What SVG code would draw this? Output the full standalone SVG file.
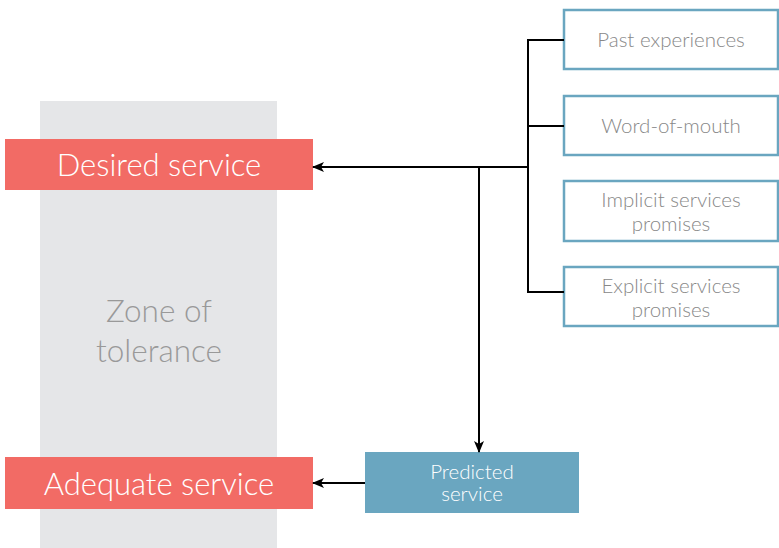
<svg xmlns="http://www.w3.org/2000/svg" width="779" height="548" viewBox="0 0 779 548">
  <defs>
    <marker id="arrow" markerWidth="12" markerHeight="10" refX="11" refY="5" orient="auto" markerUnits="userSpaceOnUse">
      <path d="M0,0 L12,5 L0,10 L3,5 Z" fill="#000"/>
    </marker>
    <style>
      .lbl { font-family: Lato, "Open Sans", "Liberation Sans", sans-serif; font-weight: 300; text-anchor: middle; }
      .src rect { fill: #fff; stroke: #6aa6c0; stroke-width: 2.5; }
      .src text { fill: #888888; font-size: 20.5px; }
      .level rect { fill: #f26b65; }
      .level text { fill: #fff; font-size: 31px; }
      .conn { fill: none; stroke: #000; stroke-width: 2; }
    </style>
  </defs>
  <rect width="779" height="548" fill="#fff"/>

  <g id="zone">
    <rect x="40" y="101" width="237" height="447" fill="#e5e6e8"/>
    <text class="lbl" x="159" y="322" font-size="31.5" fill="#999">Zone of</text>
    <text class="lbl" x="159" y="362" font-size="31.5" fill="#999">tolerance</text>
  </g>

  <g id="desired" class="level">
    <rect x="5" y="139" width="308" height="51"/>
    <text class="lbl" x="159" y="176">Desired service</text>
  </g>

  <g id="adequate" class="level">
    <rect x="5" y="457" width="308" height="52"/>
    <text class="lbl" x="159" y="495">Adequate service</text>
  </g>

  <g id="past" class="src">
    <rect x="564" y="10" width="214" height="59"/>
    <text class="lbl" x="671" y="47">Past experiences</text>
  </g>
  <g id="wom" class="src">
    <rect x="564" y="96" width="214" height="59"/>
    <text class="lbl" x="671" y="133">Word-of-mouth</text>
  </g>
  <g id="implicit" class="src">
    <rect x="564" y="181" width="214" height="60"/>
    <text class="lbl" x="671" y="207">Implicit services</text>
    <text class="lbl" x="671" y="231">promises</text>
  </g>
  <g id="explicit" class="src">
    <rect x="564" y="267" width="214" height="59"/>
    <text class="lbl" x="671" y="293">Explicit services</text>
    <text class="lbl" x="671" y="317">promises</text>
  </g>

  <g id="predicted">
    <rect x="365" y="452" width="214" height="61" fill="#6aa6c0"/>
    <text class="lbl" x="472" y="479" font-size="20.5" fill="#fff">Predicted</text>
    <text class="lbl" x="472" y="501" font-size="20.5" fill="#fff">service</text>
  </g>

  <g id="connectors">
    <path class="conn" d="M564,40 H528 V292 H564"/>
    <path class="conn" d="M528,126 H564"/>
    <path class="conn" d="M528,167 H313" marker-end="url(#arrow)"/>
    <path class="conn" d="M479,167 V452" marker-end="url(#arrow)"/>
    <path class="conn" d="M365,483 H313" marker-end="url(#arrow)"/>
  </g>
</svg>
